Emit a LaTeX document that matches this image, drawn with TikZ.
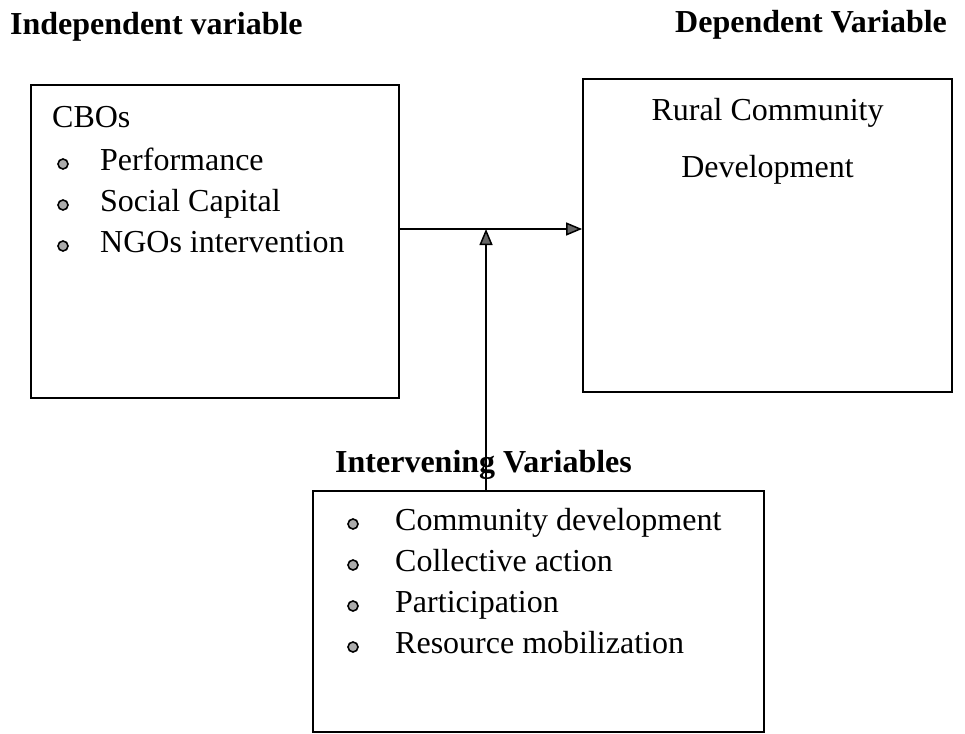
\documentclass[tikz,border=0pt]{standalone}
\usepackage{fontspec}
\setmainfont{Liberation Serif}
\usetikzlibrary{arrows.meta}
\begin{document}
\begin{tikzpicture}[x=1pt,y=-1pt,
  boxstyle/.style={draw=black, line width=1.8pt, rectangle, inner sep=0pt},
  txt/.style={anchor=base west, inner sep=0pt, font=\fontsize{32}{38}\selectfont},
  head/.style={anchor=base west, inner sep=0pt, font=\fontsize{32}{38}\selectfont\bfseries},
  bul/.style={circle, draw=black, fill=gray!65, line width=1.6pt, minimum size=10pt, inner sep=0pt},
  arr/.style={line width=1.5pt, -{Triangle[length=16pt,width=13pt,fill=black!60]}}]
\useasboundingbox (0,0) rectangle (965,733);
% boxes
\node[boxstyle, minimum width=368pt, minimum height=313pt] (cbo) at (215,241.5) {};
\node[boxstyle, minimum width=369pt, minimum height=313pt] (rcd) at (767.5,235.5) {};
\node[boxstyle, minimum width=451pt, minimum height=241pt] (iv) at (538.5,611.5) {};
% headings
\node[head] (hind) at (10,35) {Independent variable};
\node[head] (hdep) at (675,33) {Dependent Variable};
\node[head] (hint) at (335,472) {Intervening Variables};
% left box
\node[txt] (t0) at (52,128) {CBOs};
\node[bul] (b1) at (63,164) {}; \node[txt] (t1) at (100,170) {Performance};
\node[bul] (b2) at (63,205) {}; \node[txt] (t2) at (100,211) {Social Capital};
\node[bul] (b3) at (63,246) {}; \node[txt] (t3) at (100,252) {NGOs intervention};
% right box
\node[txt, anchor=base] (r1) at (767.5,121) {Rural Community};
\node[txt, anchor=base] (r2) at (767.5,177) {Development};
% bottom box
\node[bul] (c1) at (353,524) {}; \node[txt] (s1) at (395,530) {Community development};
\node[bul] (c2) at (353,565) {}; \node[txt] (s2) at (395,571) {Collective action};
\node[bul] (c3) at (353,606) {}; \node[txt] (s3) at (395,612) {Participation};
\node[bul] (c4) at (353,647) {}; \node[txt] (s4) at (395,653) {Resource mobilization};
% arrows
\coordinate (j) at (486,229);
\draw[arr] (cbo.east |- j) -- (rcd.west |- j);
\draw[arr] (iv.north -| j) -- (j);
\end{tikzpicture}
\end{document}
